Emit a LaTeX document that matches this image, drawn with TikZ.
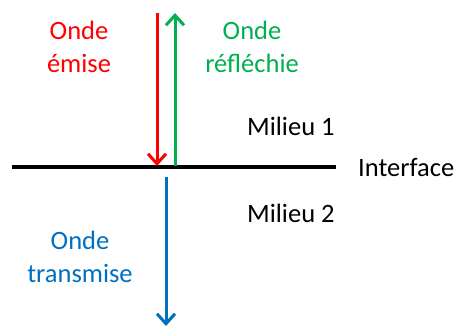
\documentclass[tikz,border=0pt]{standalone}
\usepackage{fontspec}
\setmainfont{Carlito}
\usetikzlibrary{arrows.meta}
\definecolor{rouge}{HTML}{FF0000}
\definecolor{vert}{HTML}{00B050}
\definecolor{bleu}{HTML}{0070C0}
\begin{document}
\begin{tikzpicture}[x=1pt,y=-1pt,
    every node/.style={font=\fontsize{26.5}{33}\selectfont, inner sep=0pt, align=center},
    onde/.style={line width=3pt, -{Straight Barb[length=10pt,width=18pt,line width=3pt]}}]
  \useasboundingbox (0,0) rectangle (459,327);
  % -=-=-=-=- INTERFACE -=-=-=-=-
  \coordinate (gauche) at (12,167);
  \coordinate (droite) at (336,167);
  \draw[line width=3.2pt] (gauche) -- (droite);
  \node[anchor=base west] (interface) at (358,176) {Interface};
  \node[anchor=base west] (milieuA) at (247,135) {Milieu 1};
  \node[anchor=base west] (milieuB) at (247,222) {Milieu 2};
  % -=-=-=-=- ONDES -=-=-=-=-
  \coordinate (emiseHaut) at (157,13);
  \coordinate (emiseBas) at (157,166);
  \coordinate (reflHaut) at (175,13);
  \coordinate (reflBas) at (175,166);
  \coordinate (transHaut) at (166,177);
  \coordinate (transBas) at (166,326);
  \draw[onde,rouge] (emiseHaut) -- (emiseBas);
  \draw[onde,vert] (reflBas) -- (reflHaut);
  \draw[onde,bleu] (transHaut) -- (transBas);
  \node[rouge] (emise) at (79,47) {Onde\\émise};
  \node[vert] (reflechie) at (252,47) {Onde\\réfléchie};
  \node[bleu] (transmise) at (80,257) {Onde\\transmise};
\end{tikzpicture}
\end{document}
